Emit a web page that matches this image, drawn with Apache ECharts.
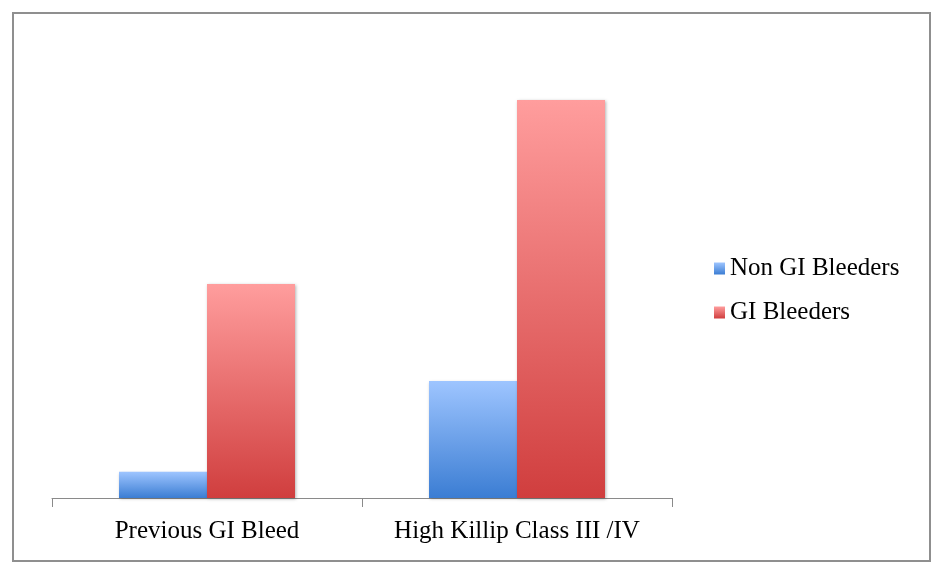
<!DOCTYPE html>
<html><head><meta charset="utf-8">
<script src="https://cdn.jsdelivr.net/npm/echarts@6/dist/echarts.min.js"></script>
<style>html,body{margin:0;padding:0;background:#fff}#c{width:945px;height:579px}</style>
</head><body><div id="c"></div>
<script>
const categories = ['Previous GI Bleed', 'High Killip Class III /IV'];
const nonGI = [2.2, 9.8];
const gi = [17.9, 33.3];
const seriesNames = ['Non GI Bleeders', 'GI Bleeders'];

const blueGrad = new echarts.graphic.LinearGradient(0,0,0,1,[{offset:0,color:'#9ec5ff'},{offset:1,color:'#3b7dd3'}]);
const redGrad = new echarts.graphic.LinearGradient(0,0,0,1,[{offset:0,color:'#ff9d9d'},{offset:1,color:'#d03e3e'}]);
const font = '"Liberation Serif", serif';
const chart = echarts.init(document.getElementById('c'));
chart.setOption({
  animation:false,
  backgroundColor:'#fff',
  graphic:[{type:'rect',shape:{x:13,y:13,width:917,height:548},style:{fill:'none',stroke:'#8f8f8f',lineWidth:2}}],
  grid:{left:52,right:273,top:20,bottom:81},
  legend:{orient:'vertical',left:709,top:251,icon:'rect',itemWidth:11,itemHeight:12,itemGap:19,itemStyle:{borderWidth:0},
    textStyle:{fontFamily:font,fontSize:25,color:'#000'},data:seriesNames},
  xAxis:{type:'category',data:categories,
    axisLine:{lineStyle:{color:'#8a8a8a',width:1}},
    axisTick:{show:true,interval:0,length:9,lineStyle:{color:'#8a8a8a'}},
    axisLabel:{interval:0,hideOverlap:false,fontFamily:font,fontSize:25,color:'#000',margin:21}},
  yAxis:{type:'value',min:0,max:40,show:false,splitLine:{show:false}},
  series:[
    {name:seriesNames[0],type:'bar',data:nonGI,barWidth:88,barGap:'0%',
      itemStyle:{color:blueGrad,shadowBlur:3,shadowColor:'rgba(0,0,0,0.3)',shadowOffsetX:1,shadowOffsetY:1}},
    {name:seriesNames[1],type:'bar',data:gi,barWidth:88,barGap:'0%',
      itemStyle:{color:redGrad,shadowBlur:3,shadowColor:'rgba(0,0,0,0.3)',shadowOffsetX:1,shadowOffsetY:1}}
  ]
});
</script></body></html>
